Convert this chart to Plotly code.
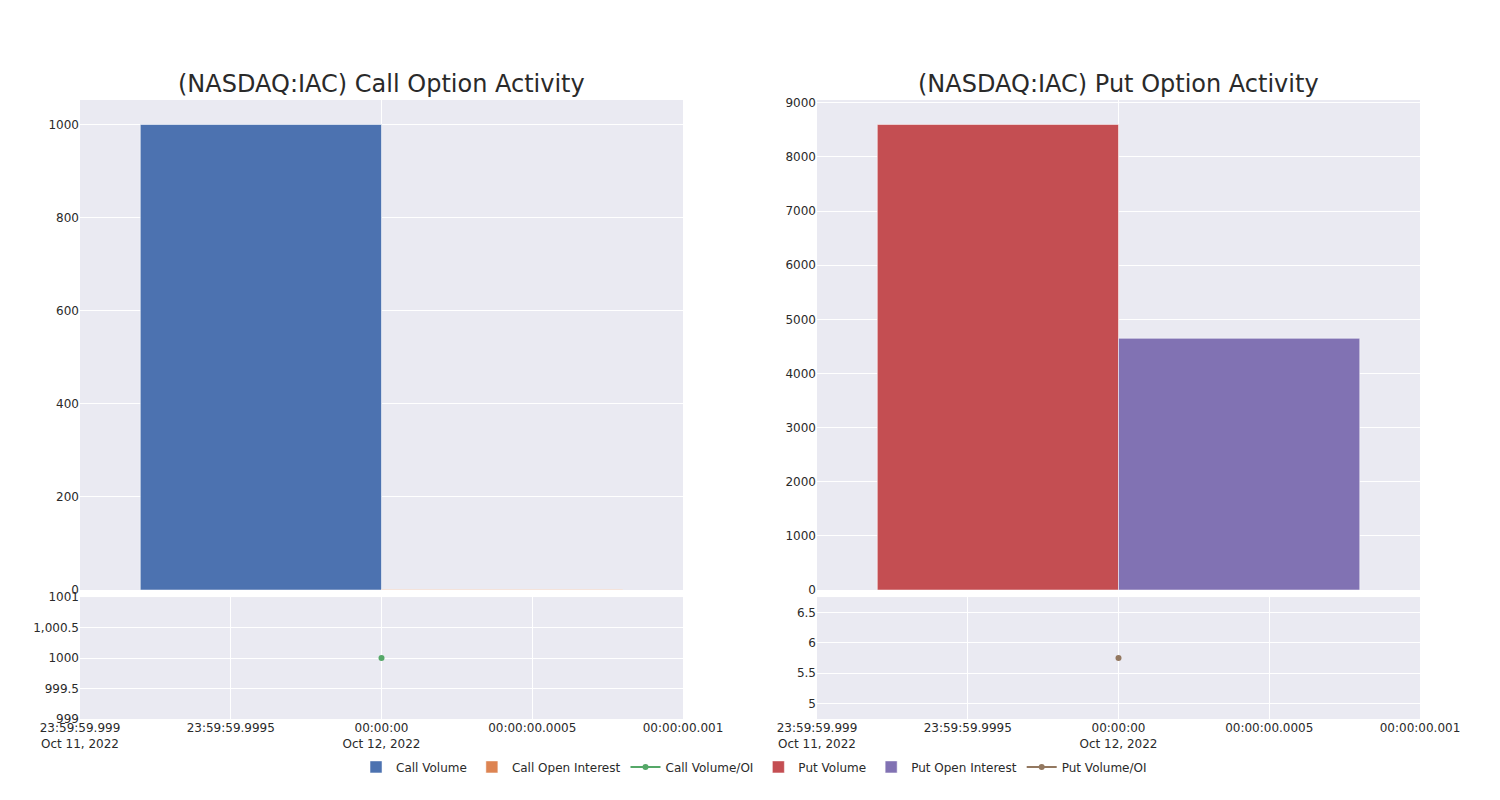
import plotly.graph_objects as go
from plotly.subplots import make_subplots

dates = ["2022-10-12"]
call_volume = [1000]
call_open_interest = [1]
call_vol_oi = [1000]
put_volume = [8600]
put_open_interest = [4650]
put_vol_oi = [5.75]

titles = ["(NASDAQ:IAC) Call Option Activity", "(NASDAQ:IAC) Put Option Activity"]

C_BLUE = "#4C72B0"
C_ORANGE = "#DD8452"
C_GREEN = "#55A868"
C_RED = "#C44E52"
C_PURPLE = "#8172B3"
C_BROWN = "#937860"

fig = make_subplots(rows=2, cols=2, row_heights=[0.8, 0.2],
                    vertical_spacing=0.011, horizontal_spacing=0.1,
                    subplot_titles=[titles[0], titles[1], "", ""])

fig.add_trace(go.Bar(x=dates, y=call_volume, name="Call Volume", marker_color=C_BLUE,
                     width=0.8, offset=-0.8, marker_line=dict(color="white", width=0.5)), row=1, col=1)
fig.add_trace(go.Bar(x=dates, y=call_open_interest, name="Call Open Interest", marker_color=C_ORANGE,
                     width=0.8, offset=0, marker_line=dict(color="white", width=0.5)), row=1, col=1)
fig.add_trace(go.Scatter(x=dates, y=call_vol_oi, name="Call Volume/OI", mode="lines+markers",
                         line=dict(color=C_GREEN), marker=dict(size=6)), row=2, col=1)
fig.add_trace(go.Bar(x=dates, y=put_volume, name="Put Volume", marker_color=C_RED,
                     width=0.8, offset=-0.8, marker_line=dict(color="white", width=0.5)), row=1, col=2)
fig.add_trace(go.Bar(x=dates, y=put_open_interest, name="Put Open Interest", marker_color=C_PURPLE,
                     width=0.8, offset=0, marker_line=dict(color="white", width=0.5)), row=1, col=2)
fig.add_trace(go.Scatter(x=dates, y=put_vol_oi, name="Put Volume/OI", mode="lines+markers",
                         line=dict(color=C_BROWN), marker=dict(size=6)), row=2, col=2)

xr = ["2022-10-11 23:59:59.999", "2022-10-12 00:00:00.001"]

fig.update_layout(
    template="seaborn",
    barmode="overlay",
    width=1500, height=800,
    margin=dict(l=72, r=88, t=92, b=89, autoexpand=False),
    showlegend=True,
    legend=dict(orientation="h", x=0.503, xanchor="center", y=-0.054, yanchor="top",
                font=dict(size=12)),
    font=dict(family="DejaVu Sans", color="#2a2a2a", size=12),
)

fig.update_layout(
    xaxis=dict(domain=[0, 0.45], range=xr, type="date", tickvals=[dates[0]], showticklabels=False),
    xaxis2=dict(domain=[0.55, 1], range=xr, type="date", tickvals=[dates[0]], showticklabels=False),
    xaxis3=dict(domain=[0, 0.45], range=xr, type="date", dtick=0.5, tick0=dates[0]),
    xaxis4=dict(domain=[0.55, 1], range=xr, type="date", dtick=0.5, tick0=dates[0]),
    yaxis=dict(domain=[0.2084, 1]),
    yaxis2=dict(domain=[0.2084, 1]),
    yaxis3=dict(domain=[0, 0.197]),
    yaxis4=dict(domain=[0, 0.197]),
)

for ann in fig.layout.annotations:
    ann.font = dict(size=24, color="#2a2a2a", family="DejaVu Sans")

fig.layout.annotations[0].x = 0.225
fig.layout.annotations[1].x = 0.775

fig.write_html("out.html")
